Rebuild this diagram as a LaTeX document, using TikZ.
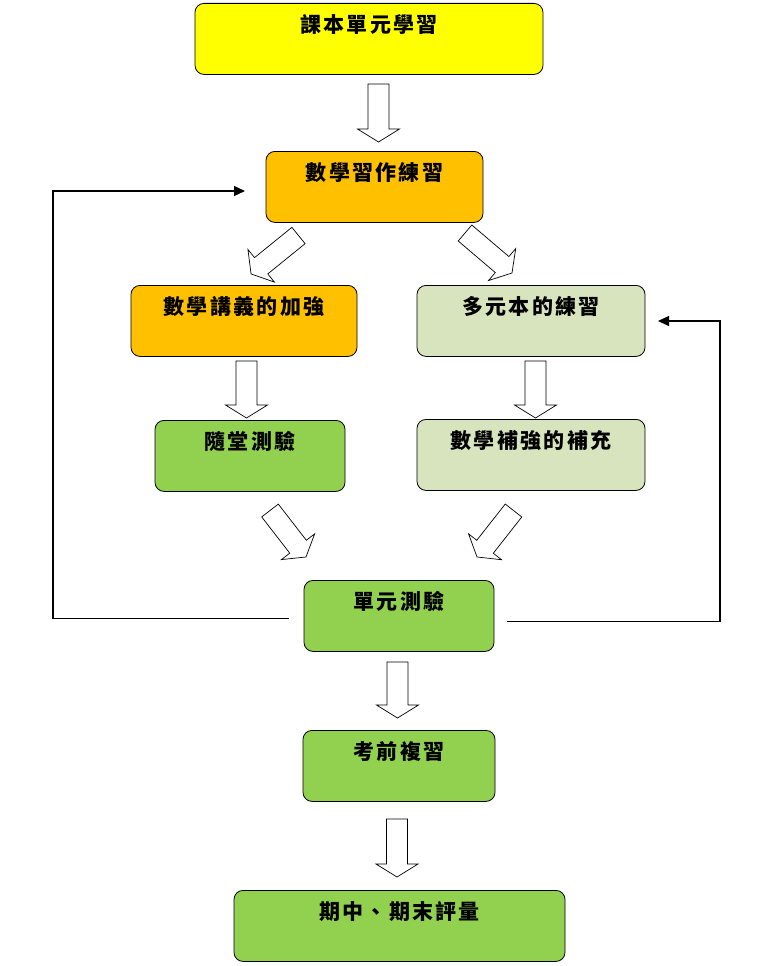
\documentclass[tikz,border=0pt]{standalone}
\usepackage{fontspec}
\newfontfamily\cjk{Noto Sans CJK TC}[LetterSpace=11]
\usetikzlibrary{arrows.meta,calc}
\definecolor{cyellow}{HTML}{FFFF00}
\definecolor{corange}{HTML}{FFC000}
\definecolor{clight}{HTML}{D7E4BD}
\definecolor{cgreen}{HTML}{92D050}
\tikzset{
  box/.style={draw=black, line width=0.8pt, rounded corners=9pt, anchor=north,
    inner sep=0pt, text height=29.5pt, text depth=41.5pt,
    font=\fontsize{21}{23}\cjk\bfseries},
  blockarr/.style={draw=black, fill=white, line width=0.7pt, line join=miter},
  fb/.style={draw=black, line width=1.2pt, -{Triangle[length=11pt,width=10pt]}},
}
\newcommand\blockarrow[2]{%
  \path let \p1=(#1), \p2=(#2),
    \n1={atan2(\y2-\y1,\x2-\x1)}, \n2={veclen(\x2-\x1,\y2-\y1)} in
    \pgfextra{\xdef\baang{\n1}\xdef\balen{\n2}\xdef\bax{\x1}\xdef\bay{\y1}};
  \draw[blockarr, shift={(\bax,\bay)}, rotate=\baang]
    (0,-10.5) -- ({\balen-13},-10.5) -- ({\balen-13},-21) -- (\balen,0)
    -- ({\balen-13},21) -- ({\balen-13},10.5) -- (0,10.5) -- cycle;
}
\begin{document}
\begin{tikzpicture}[x=1pt,y=-1pt]
\useasboundingbox (0,0) rectangle (775,966);
% boxes
\node[box, fill=cyellow, minimum width=348pt] (b1) at (369,3) {課本單元學習};
\node[box, fill=corange, minimum width=217pt] (b2) at (374.5,151) {數學習作練習};
\node[box, fill=corange, minimum width=226pt] (b3) at (244,285) {數學講義的加強};
\node[box, fill=clight, minimum width=228pt] (b4) at (531,285) {多元本的練習};
\node[box, fill=cgreen, minimum width=190pt] (b5) at (250,420) {隨堂測驗};
\node[box, fill=clight, minimum width=228pt] (b6) at (531,419) {數學補強的補充};
\node[box, fill=cgreen, minimum width=190pt] (b7) at (399,580) {單元測驗};
\node[box, fill=cgreen, minimum width=192pt] (b8) at (399,730) {考前複習};
\node[box, fill=cgreen, minimum width=331pt] (b9) at (399.5,890) {期中、期末評量};
% block arrow end points
\coordinate (a1s) at (378.5,84);  \coordinate (a1e) at (378.5,142);
\coordinate (a2s) at (298.5,235.5); \coordinate (a2e) at (251,274);
\coordinate (a3s) at (465,233);   \coordinate (a3e) at (512,273);
\coordinate (a4s) at (246.5,361); \coordinate (a4e) at (246.5,418);
\coordinate (a5s) at (535.5,361); \coordinate (a5e) at (535.5,418);
\coordinate (a6s) at (270,510.5); \coordinate (a6e) at (306,557);
\coordinate (a7s) at (513.5,510.5); \coordinate (a7e) at (477,557);
\coordinate (a8s) at (397.5,662); \coordinate (a8e) at (397.5,718);
\coordinate (a9s) at (397,819);   \coordinate (a9e) at (397,877);
\blockarrow{a1s}{a1e}
\blockarrow{a2s}{a2e}
\blockarrow{a3s}{a3e}
\blockarrow{a4s}{a4e}
\blockarrow{a5s}{a5e}
\blockarrow{a6s}{a6e}
\blockarrow{a7s}{a7e}
\blockarrow{a8s}{a8e}
\blockarrow{a9s}{a9e}
% feedback lines
\coordinate (fl1) at (289,618.5);
\coordinate (fl2) at (245,191);
\draw[fb] (fl1) -- ++(-236,0) |- (fl2);
\coordinate (fr1) at (507,621.5);
\coordinate (fr2) at (658,321);
\draw[fb] (fr1) -- ++(213,0) |- (fr2);
\end{tikzpicture}
\end{document}
